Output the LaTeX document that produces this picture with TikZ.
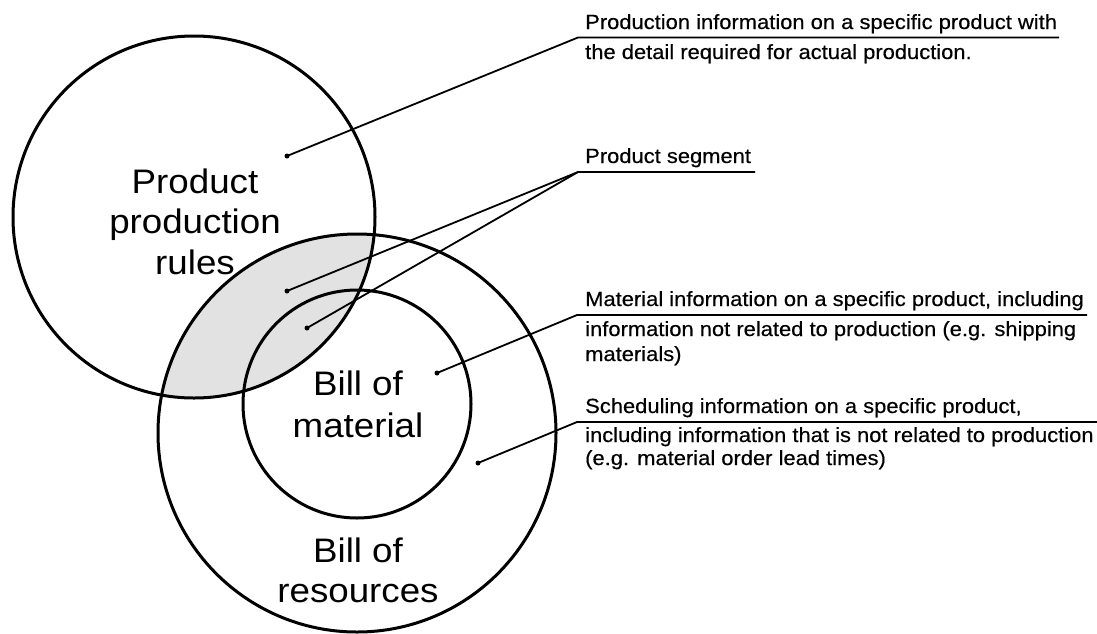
\documentclass[tikz,border=0pt]{standalone}
\usepackage{fontspec}
\setmainfont{Liberation Sans}[FakeStretch=1.08]
\newfontfamily\notefont{Liberation Sans}[FakeStretch=1.07,FakeBold=0.4]
\definecolor{lensgray}{RGB}{226,226,226}
\begin{document}
\begin{tikzpicture}[x=1pt,y=-1pt,
  ring/.style={line width=3pt},
  leader/.style={line width=1.8pt},
  dotn/.style={circle,fill=black,inner sep=0pt,minimum size=5pt},
  biglab/.style={anchor=base,inner sep=0pt,font=\fontsize{34}{40}\selectfont},
  smalllab/.style={anchor=base west,inner sep=0pt,font=\notefont\fontsize{20.5}{24}\selectfont}]
\useasboundingbox (0,0) rectangle (1097,633);
% centres
\coordinate (ppr) at (194,217);
\coordinate (bor) at (357,433);
\coordinate (bom) at (357,404);
% shaded lens
\begin{scope}
  \clip (ppr) circle[radius=181pt];
  \fill[lensgray] (bor) circle[radius=199pt];
\end{scope}
% circles
\draw[ring] (ppr) circle[radius=181pt];
\draw[ring] (bor) circle[radius=199pt];
\draw[ring] (bom) circle[radius=114pt];
% big labels
\node[biglab] (ppr1) at (195,193) {Product};
\node[biglab] (ppr2) at (195,233) {production};
\node[biglab] (ppr3) at (195,274) {rules};
\node[biglab] (bom1) at (358,395) {Bill of};
\node[biglab] (bom2) at (358,437) {material};
\node[biglab] (bor1) at (358,562) {Bill of};
\node[biglab] (bor2) at (358,602) {resources};
% dots
\node[dotn] (d1) at (287,156) {};
\node[dotn] (d2) at (287,291) {};
\node[dotn] (d3) at (307,328) {};
\node[dotn] (d4) at (437,373) {};
\node[dotn] (d5) at (478,463) {};
% leader corners and ends
\coordinate (k1) at (578,37.5);  \coordinate (e1) at (1059,37.5);
\coordinate (k2) at (578,172);   \coordinate (e2) at (755,172);
\coordinate (k3) at (577,315);   \coordinate (e3) at (1087,315);
\coordinate (k4) at (577,422);   \coordinate (e4) at (1097,422);
\draw[leader] (d1.center) -- (k1) -- (e1);
\draw[leader] (d2.center) -- (k2) -- (e2);
\draw[leader] (d3.center) -- (k2);
\draw[leader] (d4.center) -- (k3) -- (e3);
\draw[leader] (d5.center) -- (k4) -- (e4);
% small labels
\node[smalllab] (t1a) at (585,29) {Production information on a specific product with};
\node[smalllab] (t1b) at (585,59) {the detail required for actual production.};
\node[smalllab] (t2a) at (585,163) {Product segment};
\node[smalllab] (t3a) at (585,306) {Material information on a specific product, including};
\node[smalllab] (t3b) at (585,336) {information not related to production (e.g. shipping};
\node[smalllab] (t3c) at (585,361) {materials)};
\node[smalllab] (t4a) at (585,413) {Scheduling information on a specific product,};
\node[smalllab] (t4b) at (585,442) {including information that is not related to production};
\node[smalllab] (t4c) at (585,465) {(e.g. material order lead times)};
\end{tikzpicture}
\end{document}
